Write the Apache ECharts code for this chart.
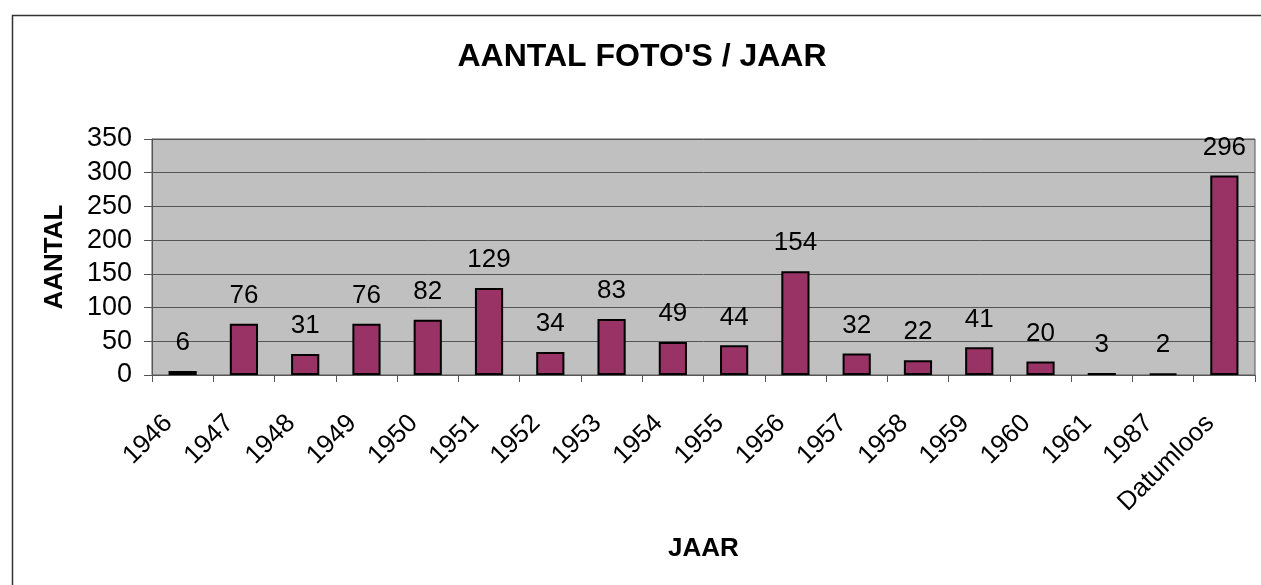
<!DOCTYPE html>
<html>
<head>
<meta charset="utf-8">
<script src="https://cdn.jsdelivr.net/npm/echarts@6/dist/echarts.min.js"></script>
<style>
html,body{margin:0;padding:0;background:#fff;}
#chart{width:1261px;height:585px;}
</style>
</head>
<body>
<div id="chart"></div>
<script>
var categories = ['1946','1947','1948','1949','1950','1951','1952','1953','1954','1955','1956','1957','1958','1959','1960','1961','1987','Datumloos'];
var counts = [6,76,31,76,82,129,34,83,49,44,154,32,22,41,20,3,2,296];
var yTicks = {min:0, max:350, interval:50};
var FONT = '"Liberation Sans", Arial, sans-serif';

var chart = echarts.init(document.getElementById('chart'), null, {renderer:'canvas'});
chart.setOption({
  animation:false,
  backgroundColor:'#ffffff',
  graphic:[{
    type:'rect', left:10, top:13, silent:true,
    shape:{x:0,y:0,width:1400,height:800},
    style:{fill:'none', stroke:'#333333', lineWidth:1.5}
  }],
  title:{
    text:"AANTAL FOTO'S / JAAR",
    left:642, top:41, padding:0, textAlign:'center',
    textStyle:{fontFamily:FONT, fontSize:32, fontWeight:'bold', color:'#000'}
  },
  grid:{
    left:152, top:139, right:6, bottom:210,
    show:true, backgroundColor:'#c0c0c0', borderColor:'#555555', borderWidth:1
  },
  xAxis:{
    type:'category', data:categories,
    name:'JAAR', nameLocation:'middle', nameGap:161,
    nameTextStyle:{fontFamily:FONT, fontSize:26, fontWeight:'bold', color:'#000'},
    axisLine:{lineStyle:{color:'#555555', width:1}},
    axisTick:{show:true, length:7, lineStyle:{color:'#555555', width:1}},
    axisLabel:{rotate:45, margin:30, padding:[0,20,0,0], fontFamily:FONT, fontSize:26, color:'#000', interval:0}
  },
  yAxis:{
    type:'value', min:yTicks.min, max:yTicks.max, interval:yTicks.interval,
    name:'AANTAL', nameLocation:'middle', nameGap:84, nameRotate:90,
    nameTextStyle:{fontFamily:FONT, fontSize:26, fontWeight:'bold', color:'#000'},
    axisLine:{show:true, lineStyle:{color:'#555555', width:1}},
    axisTick:{show:true, length:8, lineStyle:{color:'#555555', width:1}},
    splitLine:{show:true, lineStyle:{color:'#555555', width:1}},
    axisLabel:{margin:20, fontFamily:FONT, fontSize:27, color:'#000'}
  },
  series:[{
    type:'bar', data:counts, barWidth:'46%',
    itemStyle:{color:'#993366', borderColor:'#000', borderWidth:2},
    label:{show:true, position:'top', distance:15, fontFamily:FONT, fontSize:26, color:'#000'}
  }]
});
</script>
</body>
</html>
